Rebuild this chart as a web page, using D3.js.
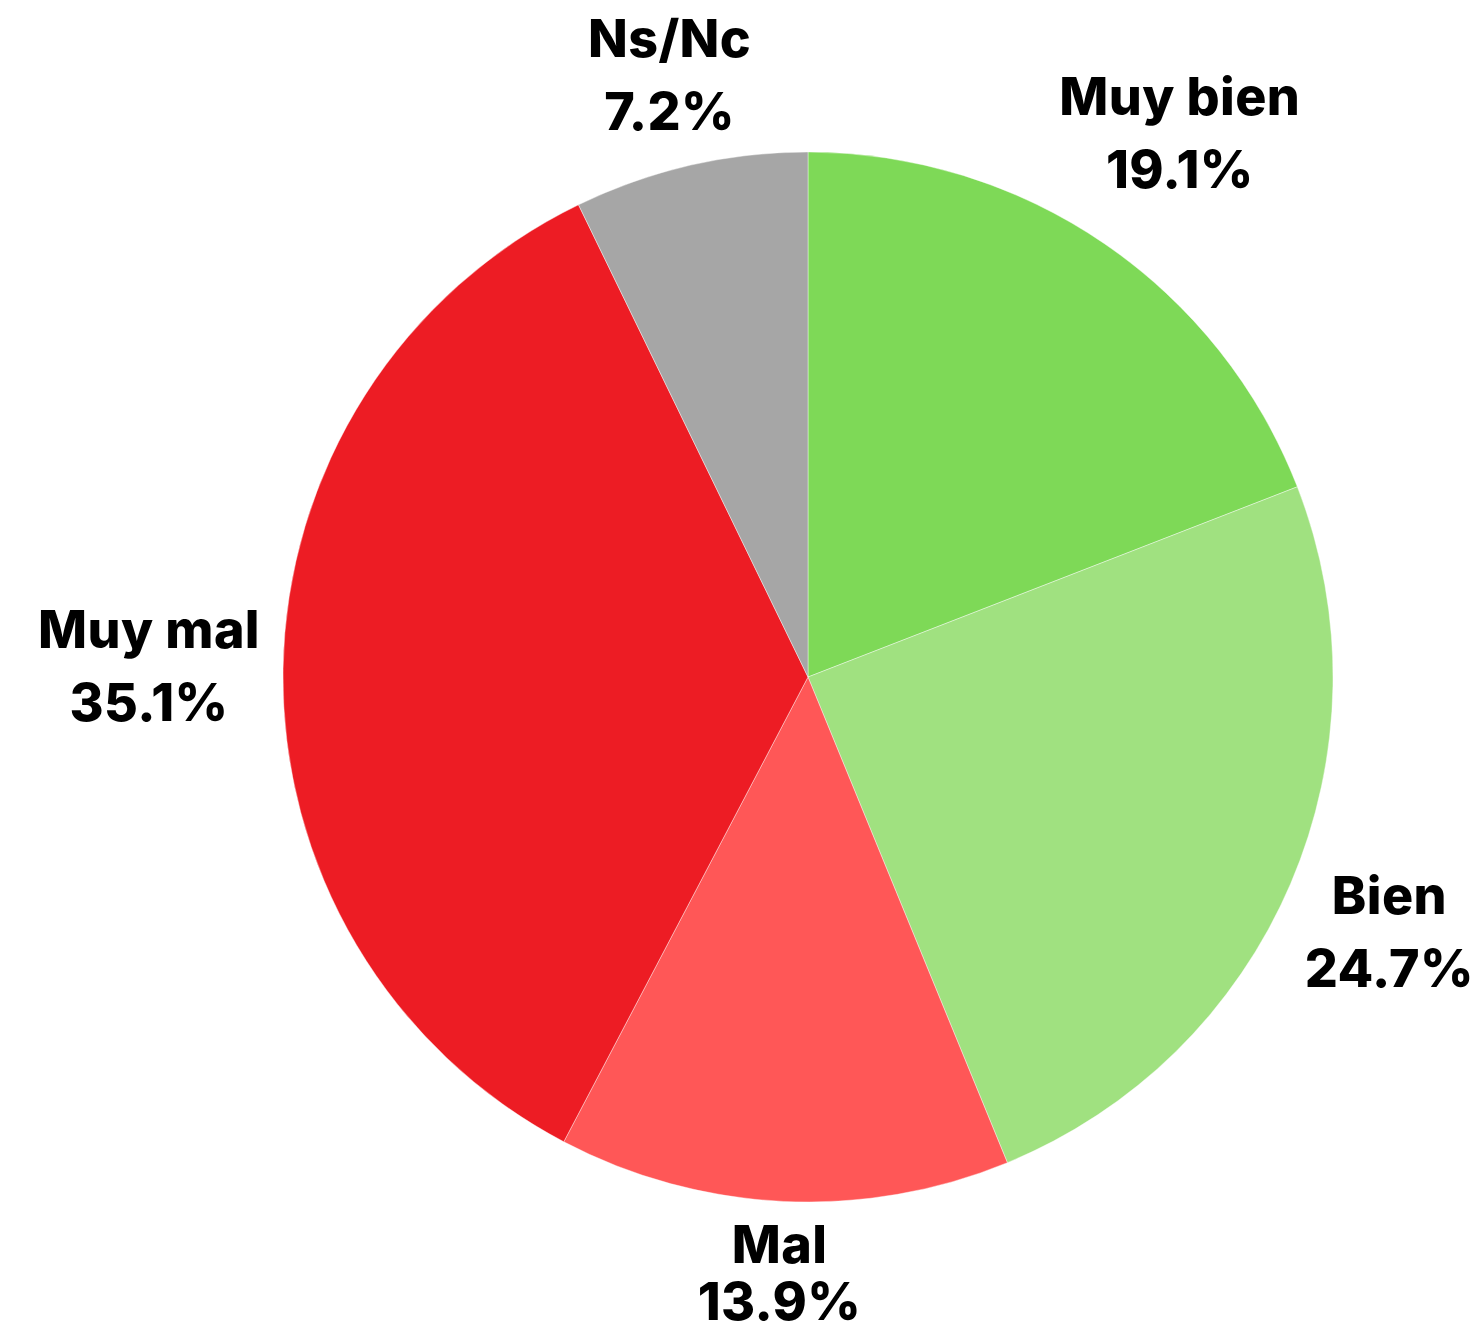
<!DOCTYPE html>
<html><head><meta charset="utf-8">
<script src="https://cdn.jsdelivr.net/npm/d3@7"></script>
<style>body{margin:0;background:#fff}</style>
</head><body>
<svg id="c" width="1484" height="1332"></svg>
<script>
const categories = ["Muy bien", "Bien", "Mal", "Muy mal", "Ns/Nc"];
const values = [19.1, 24.7, 13.9, 35.1, 7.2];
const colors = ["#7ED957", "#A0E180", "#FF5757", "#ED1C24", "#A6A6A6"];

const W = 1484, H = 1332, cx = 808, cy = 677, R = 525, labelGap = 548;
const svg = d3.select("#c");
const g = svg.append("g").attr("transform", `translate(${cx},${cy})`);
const pie = d3.pie().sort(null).value(d => d.v);
const data = pie(categories.map((c, i) => ({c, v: values[i], col: colors[i]})));
const arc = d3.arc().innerRadius(0).outerRadius(R);
g.selectAll("path").data(data).join("path")
  .attr("d", arc).attr("fill", d => d.data.col)
  .attr("stroke", "#fff").attr("stroke-width", 0.4);

const fs = 52, lhBase = 73, capH = fs * 0.73;
data.forEach(d => {
  const a = (d.startAngle + d.endAngle) / 2;
  const ux = Math.sin(a), uy = -Math.cos(a);
  const t = g.append("text").attr("text-anchor", "middle")
    .attr("font-family", "Inter, 'Noto Sans', sans-serif")
    .attr("font-weight", 800).attr("font-size", fs).attr("fill", "#000")
    .attr("letter-spacing", 0.4);
  const s1 = t.append("tspan").attr("x", 0).attr("y", 0).text(d.data.c);
  const s2 = t.append("tspan").attr("x", 0).attr("y", lhBase).text(d3.format(".1f")(d.data.v) + "%");
  const bb = t.node().getBBox();
  let lh = lhBase;
  const top = -capH;
  let h = lh + 2 - top;
  const w = bb.width;
  const dist = (s) => {
    const bx = s * ux, by = s * uy;
    const nx = Math.max(bx - w / 2, Math.min(0, bx + w / 2));
    const ny = Math.max(by - h / 2, Math.min(0, by + h / 2));
    return Math.hypot(nx, ny);
  };
  let lo = 0, hi = 2000;
  for (let i = 0; i < 60; i++) { const m = (lo + hi) / 2; if (dist(m) < labelGap) lo = m; else hi = m; }
  let bx = lo * ux;
  const by = lo * uy;
  const boxTop = by - h / 2;
  // keep inside the right/left edges
  const maxRight = W - 10 - cx, minLeft = 10 - cx;
  if (bx + w / 2 > maxRight) bx = maxRight - w / 2;
  if (bx - w / 2 < minLeft) bx = minLeft + w / 2;
  // squeeze line spacing if the label would run past the bottom edge
  const maxBottom = H - 10 - cy;
  if (boxTop + h > maxBottom) {
    lh = Math.max(fs, maxBottom - boxTop - capH - 2);
    s2.attr("y", lh);
  }
  t.attr("transform", `translate(${bx},${boxTop - top})`);
});
</script>
</body></html>
